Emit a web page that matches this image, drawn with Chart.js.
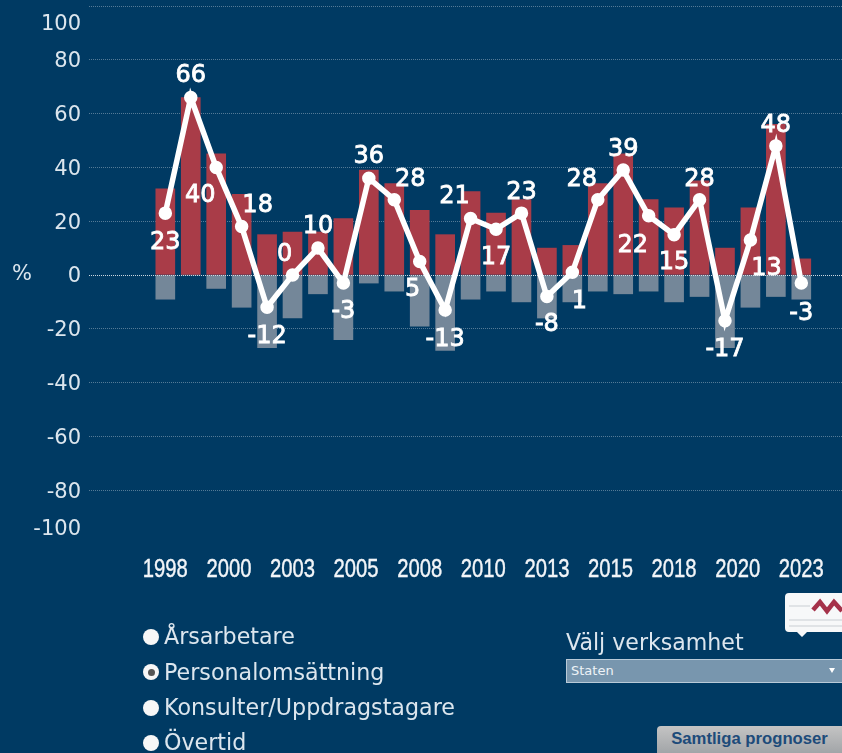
<!DOCTYPE html>
<html lang="sv">
<head>
<meta charset="utf-8">
<title>Personalomsättning</title>
<script src="https://cdn.jsdelivr.net/npm/chart.js@4"></script>
<style>
	html, body { margin: 0; padding: 0; width: 842px; height: 753px; overflow: hidden; background: #003a63; }
	#chart { position: absolute; left: 0; top: 0; }
	.opt { position: absolute; left: 164px; font: 22.2px "DejaVu Sans", sans-serif; color: #dce6ee; line-height: 26px; white-space: nowrap; }
	.dot { position: absolute; left: 143px; width: 16px; height: 16px; border-radius: 50%; background: #f7f7f7; }
	.dot.on::after { content: ''; position: absolute; left: 4.5px; top: 4.5px; width: 7px; height: 7px; border-radius: 50%; background: #555; }
	#valj { position: absolute; left: 566px; top: 629px; font: 22.1px "DejaVu Sans", sans-serif; color: #dce6ee; white-space: nowrap; }
	#select { position: absolute; left: 566px; top: 659px; width: 276px; height: 22px; background: #7896ae; border: 1px solid #b9cad8; border-right: 0; color: #eef3f7; font: 13px "DejaVu Sans", sans-serif; line-height: 22px; text-indent: 4px; }
	#arrow { position: absolute; left: 829px; top: 668px; width: 0; height: 0; border-left: 3.5px solid transparent; border-right: 3.5px solid transparent; border-top: 5px solid #fff; }
	#btn { position: absolute; left: 657px; top: 726px; width: 185px; height: 27px; background: linear-gradient(#c4c4c4, #a2a5a8); border-radius: 4px 0 0 0; color: #1d4b7a; font: bold 16.7px "Liberation Sans", sans-serif; line-height: 25px; text-align: center; }
	#logo { position: absolute; left: 784px; top: 592px; }
</style>
</head>
<body>
<canvas id="chart" width="842" height="753"></canvas>

<div class="dot" style="top:629px"></div><div class="opt" style="top:623px">Årsarbetare</div>
<div class="dot on" style="top:664px"></div><div class="opt" style="top:659px">Personalomsättning</div>
<div class="dot" style="top:700px"></div><div class="opt" style="top:694px">Konsulter/Uppdragstagare</div>
<div class="dot" style="top:735px"></div><div class="opt" style="top:729px">Övertid</div>

<svg id="logo" width="58" height="46" viewBox="0 0 58 46">
	<path d="M5 1 H58 V40 H23 L18 45 L13 40 H5 Q1 40 1 36 V5 Q1 1 5 1 Z" fill="#f7f8f9"/>
	<path d="M5 14 H26 M5 28 H58 M5 34 H58" stroke="#c9ced3" stroke-width="1"/>
	<path d="M29 18 L36 10 L43 19 L50 10 L58 19" fill="none" stroke="#a5324a" stroke-width="4.5"/>
</svg>
<div id="valj">Välj verksamhet</div>
<div id="select">Staten</div>
<div id="arrow"></div>
<div id="btn">Samtliga prognoser</div>

<script>
// Values
var years = [ 1998, 1999, 2000, 2001, 2002, 2003, 2004, 2005, 2006, 2007, 2008, 2009, 2010,
	2011, 2012, 2013, 2014, 2015, 2016, 2017, 2018, 2019, 2020, 2021, 2022, 2023 ];
var increase = [ 32, 66, 45, 30, 15, 16, 16, 21, 39, 34, 24, 15, 31, 23, 28, 10, 11, 34, 45, 28, 25, 35, 10, 25, 56, 6 ];
var decrease = [ -9, 0, -5, -12, -27, -16, -7, -24, -3, -6, -19, -28, -9, -6, -10, -16, -10, -6, -7, -6, -10, -8, -27, -12, -8, -9 ];
var netto = [ 23, 66, 40, 18, -12, 0, 10, -3, 36, 28, 5, -13, 21, 17, 23, -8, 1, 28, 39, 22, 15, 28, -17, 13, 48, -3 ];
var xTickLabels = [ '1998', '2000', '2003', '2005', '2008', '2010', '2013', '2015', '2018', '2020', '2023' ];
var yTickValues = [ 100, 80, 60, 40, 20, 0, -20, -40, -60, -80, -100 ];

// Where each value label sits relative to its point
var labelOffsets = [
	[ 0, 27 ], [ 0, -24 ], [ -16, 26 ], [ 16, -23 ], [ 0, 27 ], [ -8, -23 ], [ 0, -24 ], [ 0, 26 ], [ 0, -24 ],
	[ 16, -22 ], [ -7, 26 ], [ 0, 27 ], [ -16, -24 ], [ 0, 26 ], [ 0, -23 ], [ 0, 26 ], [ 7, 27 ], [ -16, -22 ],
	[ 0, -23 ], [ -16, 27 ], [ 0, 26 ], [ 0, -22 ], [ 0, 27 ], [ 16, 26 ], [ 0, -23 ], [ 0, 28 ]
];

( function () {
	'use strict';

	var TEXT = '#dce6ee';

	function points( arr ) {
		return arr.map( function ( v, i ) { return { x: years[ i ], y: v }; } );
	}

	// Axis labels are drawn here. 100 and -100 sit closer to the centre than their value,
	// and the year labels every 2.5 years use a condensed face.
	var axisLabels = {
		id: 'axisLabels',
		afterDraw: function ( chart ) {
			var ctx = chart.ctx, y = chart.scales.y, x = chart.scales.x;
			ctx.save();
			ctx.font = '21px "DejaVu Sans"';
			ctx.fillStyle = TEXT;
			ctx.textAlign = 'right';
			ctx.textBaseline = 'middle';
			yTickValues.forEach( function ( v ) {
				var py = y.getPixelForValue( v ) + 2;
				if ( v === 100 )  { py = 25; }
				if ( v === -100 ) { py = 530; }
				ctx.fillText( String( v ), 81, py );
			} );
			ctx.textAlign = 'left';
			ctx.fillText( '%', 12, y.getPixelForValue( 0 ) );

			ctx.font = '25px "Liberation Sans"';
			ctx.fillStyle = '#f2f5f8';
			ctx.strokeStyle = '#f2f5f8';
			ctx.lineWidth = 0.4;
			ctx.textAlign = 'center';
			xTickLabels.forEach( function ( l, i ) {
				ctx.save();
				ctx.translate( x.getPixelForValue( years[ 0 ] + i * 2.5 ), 570 );
				ctx.scale( 0.81, 1 );
				ctx.fillText( l, 0, 0 );
				ctx.strokeText( l, 0, 0 );
				ctx.restore();
			} );
			ctx.restore();
		}
	};

	// dotted zero line goes over the bars but under the white line
	var zeroLine = {
		id: 'zeroLine',
		afterDatasetDraw: function ( chart, args ) {
			if ( args.index !== 1 ) { return; }
			var ctx = chart.ctx, py = chart.scales.y.getPixelForValue( 0 );
			ctx.save();
			ctx.strokeStyle = 'rgba(255,255,255,0.7)';
			ctx.setLineDash( [ 1, 1 ] );
			ctx.beginPath();
			ctx.moveTo( chart.chartArea.left, py + 0.5 );
			ctx.lineTo( chart.chartArea.right, py + 0.5 );
			ctx.stroke();
			ctx.restore();
		}
	};

	var valueLabels = {
		id: 'valueLabels',
		afterDatasetsDraw: function ( chart ) {
			var ctx = chart.ctx, meta = chart.getDatasetMeta( 2 );
			ctx.save();
			ctx.font = '24px "DejaVu Sans"';
			ctx.fillStyle = '#ffffff';
			ctx.strokeStyle = '#ffffff';
			ctx.lineWidth = 0.8;
			ctx.textAlign = 'center';
			ctx.textBaseline = 'middle';
			meta.data.forEach( function ( pt, i ) {
				var tx = pt.x + labelOffsets[ i ][ 0 ], ty = pt.y + labelOffsets[ i ][ 1 ] + 2.5;
				ctx.fillText( String( netto[ i ] ), tx, ty );
				ctx.strokeText( String( netto[ i ] ), tx, ty );
			} );
			ctx.restore();
		}
	};

	new Chart( document.getElementById( 'chart' ), {
		data: {
			datasets: [ {
				type: 'bar',
				data: points( increase ),
				backgroundColor: '#a93c48',
				barThickness: 19,
				grouped: false,
				order: 2,
			}, {
				type: 'bar',
				data: points( decrease ),
				backgroundColor: '#748799',
				barThickness: 19,
				grouped: false,
				order: 2,
			}, {
				type: 'line',
				data: points( netto ),
				borderColor: '#ffffff',
				borderWidth: 5.5,
				backgroundColor: '#ffffff',
				pointRadius: 4,
				tension: 0,
				order: 1,
			} ],
		},
		options: {
			responsive: false,
			animation: false,
			layout: { autoPadding: false, padding: { left: 89, top: 6, right: 0, bottom: 0 } },
			plugins: { legend: { display: false }, tooltip: { enabled: false } },
			scales: {
				x: {
					type: 'linear',
					offset: false,
					min: 1995,
					max: 2024.6,
					grid: { display: false },
					border: { display: false },
					afterFit: function ( scale ) { scale.height = 209; },
					ticks: { display: false },
				},
				y: {
					min: -100,
					max: 100,
					grid: {
						drawTicks: false,
						color: function ( c ) { return c.tick.value === -100 ? 'transparent' : 'rgba(255,255,255,0.33)'; },
					},
					border: { display: false, dash: [ 1, 1 ] },
					afterFit: function ( scale ) { scale.width = 0; },
					ticks: { display: false, stepSize: 20 },
				},
			},
		},
		plugins: [ axisLabels, zeroLine, valueLabels ],
	} );
}() );
</script>
</body>
</html>
